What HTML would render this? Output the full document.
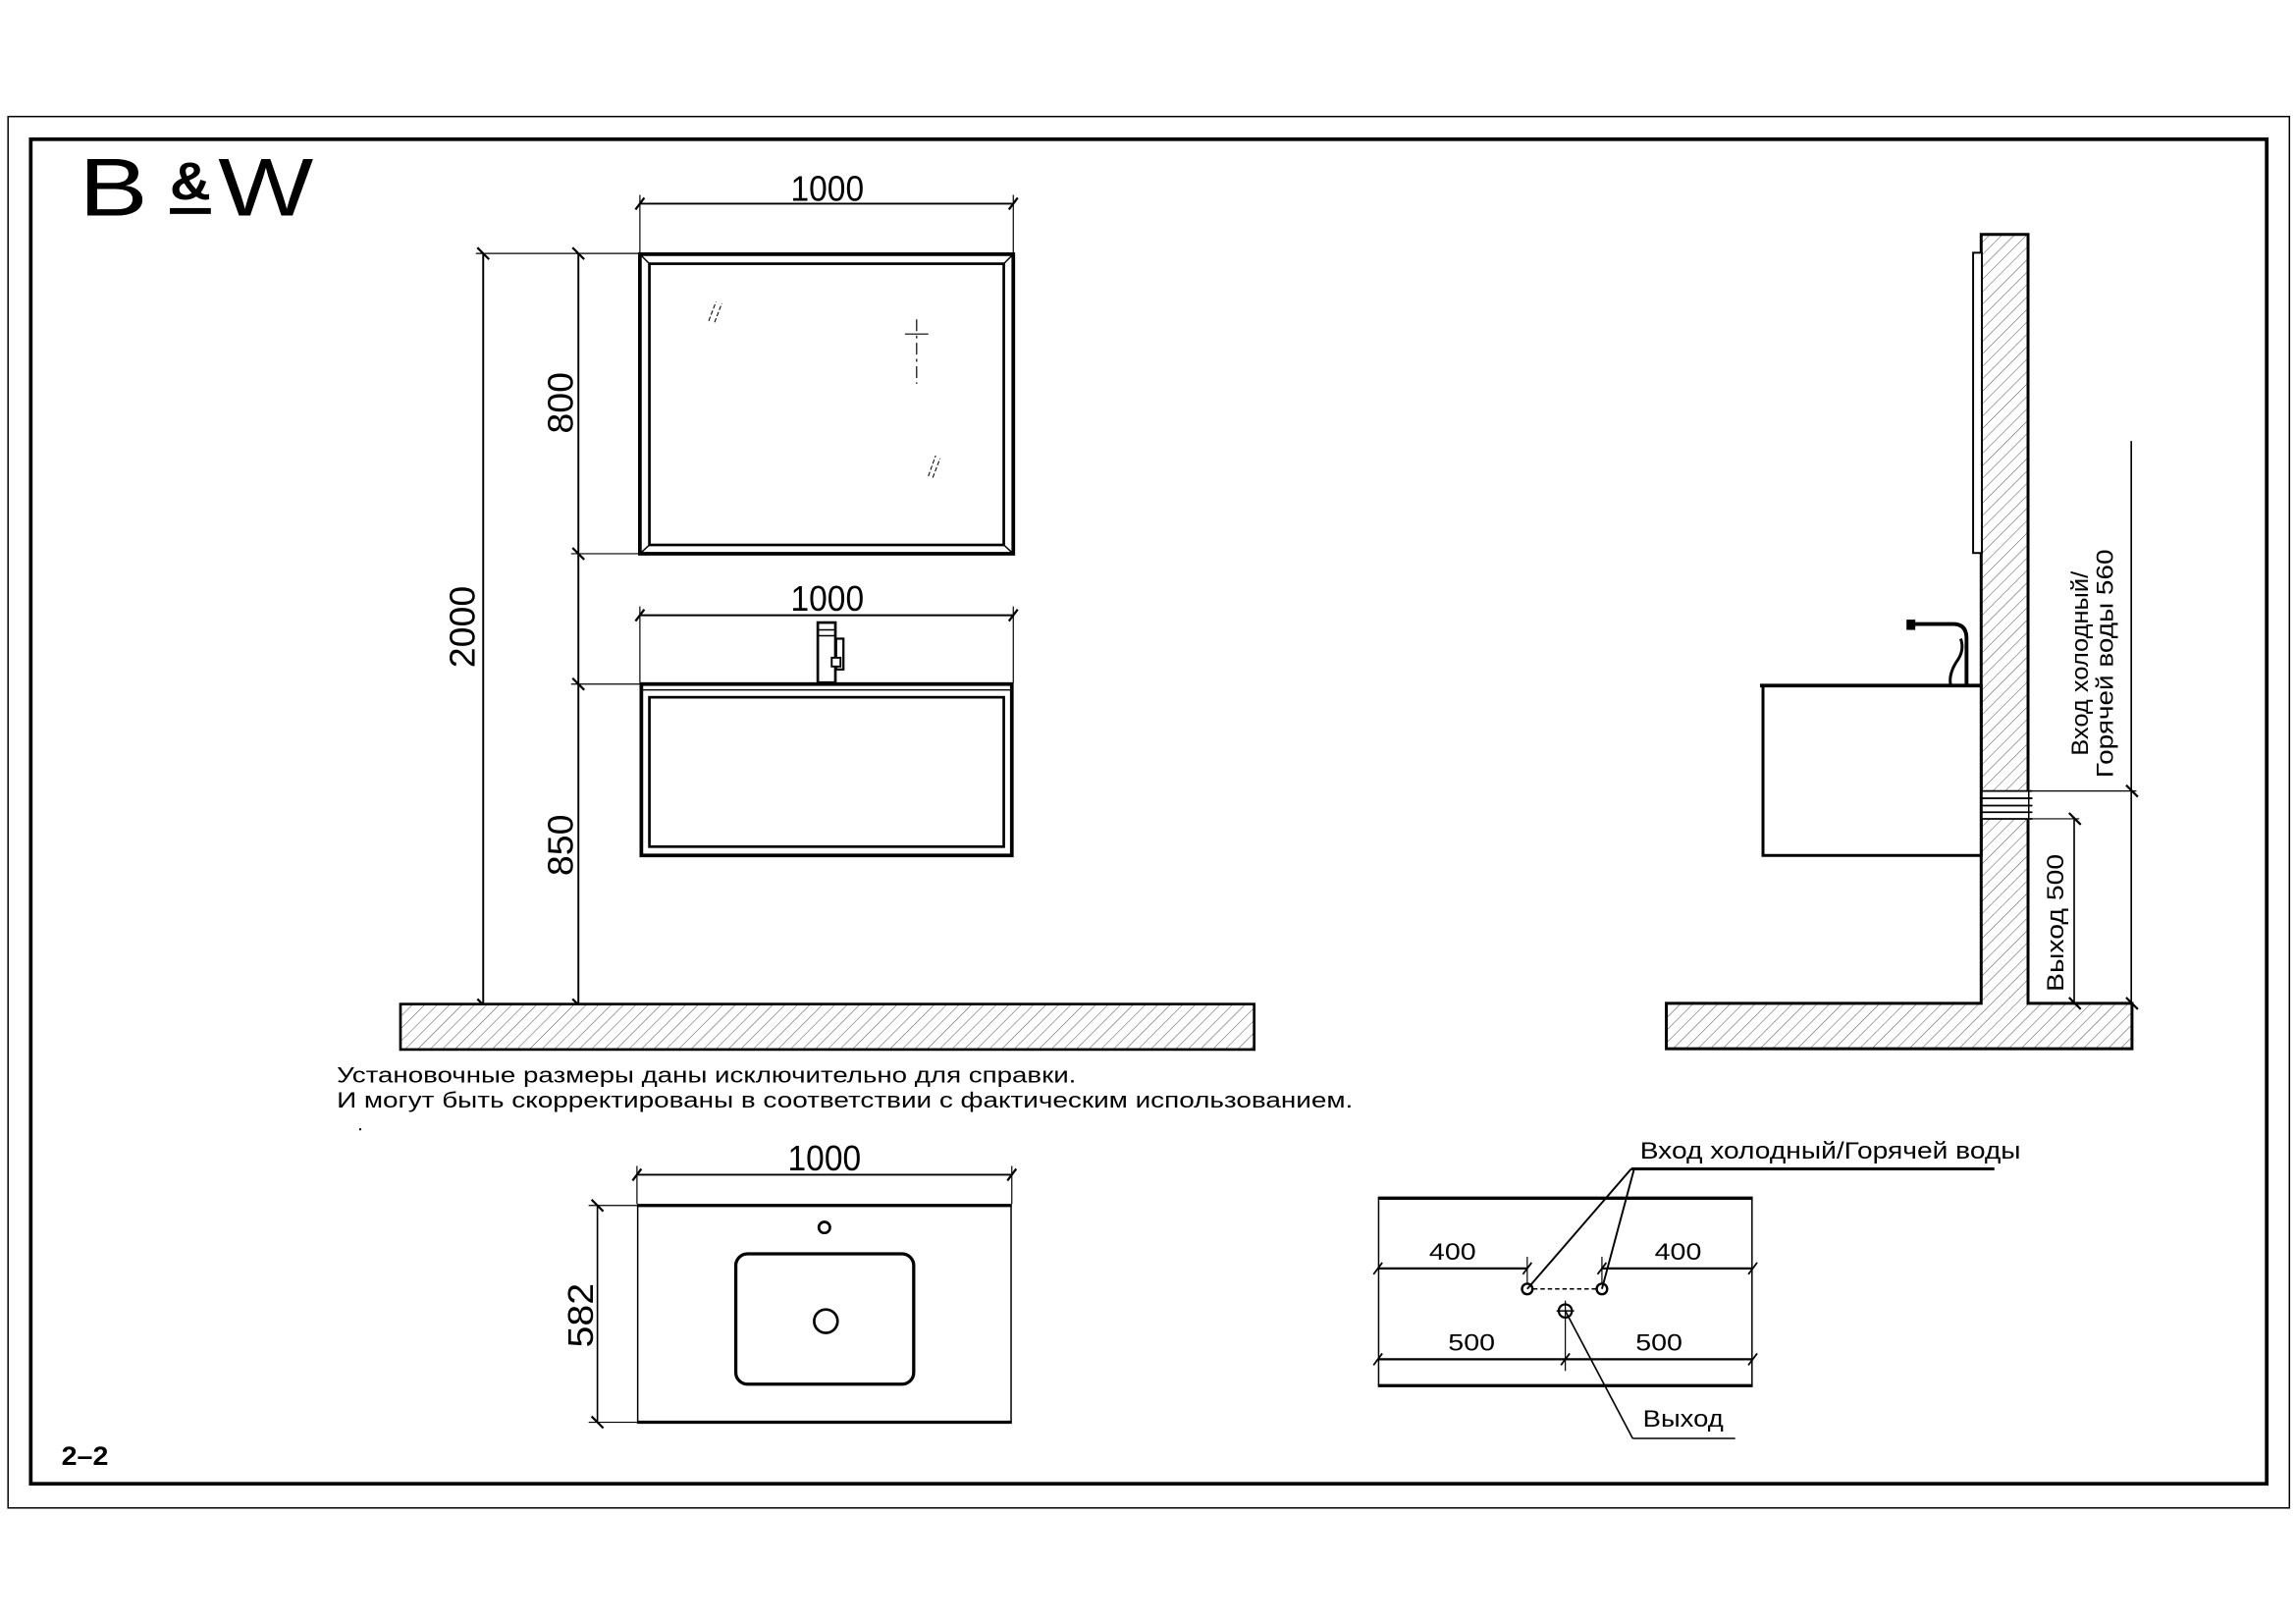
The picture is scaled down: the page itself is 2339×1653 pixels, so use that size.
<!DOCTYPE html>
<html><head><meta charset="utf-8"><style>
html,body{margin:0;padding:0;background:#fff;}
svg{display:block;}
text{font-family:"Liberation Sans","DejaVu Sans",sans-serif;fill:#000;}
</style></head><body>
<svg width="2339" height="1653" viewBox="0 0 1568 1108" xmlns="http://www.w3.org/2000/svg">
<defs>
<pattern id="h" patternUnits="userSpaceOnUse" width="6" height="6" patternTransform="rotate(45)">
<rect width="6" height="6" fill="#fff"/>
<line x1="0" y1="0" x2="0" y2="6" stroke="#555" stroke-width="0.7"/>
</pattern>
</defs>
<rect x="0" y="0" width="1568" height="1108" fill="#fff"/>
<rect x="5.5" y="79.5" width="1558" height="950" fill="none" stroke="#000" stroke-width="1"/>
<rect x="21" y="95" width="1527" height="918" fill="none" stroke="#000" stroke-width="2.5"/>

<!-- logo -->
<text x="54" y="147" font-size="56" textLength="47" lengthAdjust="spacingAndGlyphs" fill="#fff" stroke="#000" stroke-width="0">B</text>
<text x="116" y="136" font-size="36" font-weight="bold" textLength="28" lengthAdjust="spacingAndGlyphs">&amp;</text>
<rect x="116" y="142" width="28" height="4" fill="#000"/>
<text x="149" y="147" font-size="56" textLength="65" lengthAdjust="spacingAndGlyphs">W</text>

<g stroke="#000" fill="none">
<rect x="437" y="173.5" width="255" height="204.5" stroke-width="2.5"/>
<rect x="443.5" y="180" width="242" height="192" stroke-width="1.8"/>
<line x1="437" y1="173.5" x2="443.5" y2="180" stroke-width="1"/>
<line x1="692" y1="173.5" x2="685.5" y2="180" stroke-width="1"/>
<line x1="437" y1="378" x2="443.5" y2="372" stroke-width="1"/>
<line x1="692" y1="378" x2="685.5" y2="372" stroke-width="1"/>
<g stroke-width="0.7" stroke-dasharray="3 1.5">
<line x1="484" y1="219" x2="489" y2="206"/><line x1="488" y1="220" x2="493" y2="207"/>
<line x1="634" y1="325" x2="639" y2="311"/><line x1="637" y1="326" x2="642" y2="313"/>
</g>
<line x1="618" y1="228" x2="634" y2="228" stroke-width="0.8"/>
<line x1="626" y1="218" x2="626" y2="262" stroke-width="0.8" stroke-dasharray="8 3 2 3"/>

<line x1="437" y1="139" x2="692" y2="139" stroke-width="1.3"/>
<line x1="437" y1="133" x2="437" y2="173" stroke-width="0.8"/>
<line x1="692" y1="133" x2="692" y2="173" stroke-width="0.8"/>
<line x1="434" y1="143" x2="440" y2="135" stroke-width="1.5"/>
<line x1="689" y1="143" x2="695" y2="135" stroke-width="1.5"/>

<line x1="395" y1="173" x2="395" y2="686" stroke-width="1.3"/>
<line x1="330" y1="173" x2="330" y2="686" stroke-width="1.3"/>
<line x1="325" y1="173" x2="437" y2="173" stroke-width="0.8"/>
<line x1="390" y1="378" x2="437" y2="378" stroke-width="0.8"/>
<line x1="390" y1="467" x2="437" y2="467" stroke-width="0.8"/>
<g stroke-width="1.5">
<line x1="326" y1="169" x2="334" y2="177"/><line x1="391" y1="169" x2="399" y2="177"/>
<line x1="391" y1="374" x2="399" y2="382"/><line x1="391" y1="463" x2="399" y2="471"/>
<line x1="326" y1="682" x2="334" y2="690"/><line x1="391" y1="682" x2="399" y2="690"/>
</g>

<line x1="437" y1="420" x2="692" y2="420" stroke-width="1.3"/>
<line x1="437" y1="414" x2="437" y2="466" stroke-width="0.8"/>
<line x1="692" y1="414" x2="692" y2="466" stroke-width="0.8"/>
<line x1="434" y1="424" x2="440" y2="416" stroke-width="1.5"/>
<line x1="689" y1="424" x2="695" y2="416" stroke-width="1.5"/>
<rect x="438" y="467" width="253" height="117" stroke-width="2.5"/>
<line x1="438" y1="471" x2="691" y2="471" stroke-width="1"/>
<rect x="443.5" y="476" width="242" height="102" stroke-width="1.8"/>
<rect x="558.5" y="425" width="12" height="41" fill="#fff" stroke-width="1.8"/>
<line x1="559" y1="430" x2="570" y2="430" stroke-width="1"/>
<line x1="559" y1="434" x2="570" y2="434" stroke-width="1"/>
<rect x="571" y="436" width="5" height="21" fill="#fff" stroke-width="1.5"/>
<rect x="568" y="449" width="6" height="6" fill="#fff" stroke-width="1.3"/>

<rect x="273.5" y="685.5" width="583" height="31" fill="url(#h)" stroke-width="1.8"/>

<line x1="435" y1="802" x2="691" y2="802" stroke-width="1.3"/>
<line x1="435" y1="796" x2="435" y2="822" stroke-width="0.8"/>
<line x1="691" y1="796" x2="691" y2="822" stroke-width="0.8"/>
<line x1="432" y1="806" x2="438" y2="798" stroke-width="1.5"/>
<line x1="688" y1="806" x2="694" y2="798" stroke-width="1.5"/>
<line x1="435.5" y1="823" x2="435.5" y2="971" stroke-width="1"/>
<line x1="690.5" y1="823" x2="690.5" y2="971" stroke-width="1"/>
<line x1="435" y1="823" x2="691" y2="823" stroke-width="2.2"/>
<line x1="435" y1="971" x2="691" y2="971" stroke-width="2.2"/>
<line x1="408" y1="823" x2="408" y2="971" stroke-width="1.1"/>
<line x1="402" y1="823" x2="435" y2="823" stroke-width="0.8"/>
<line x1="402" y1="971" x2="435" y2="971" stroke-width="0.8"/>
<line x1="404" y1="819" x2="412" y2="827" stroke-width="1.5"/>
<line x1="404" y1="967" x2="412" y2="975" stroke-width="1.5"/>
<rect x="502.5" y="856" width="121.5" height="89" rx="8" stroke-width="2.2"/>
<circle cx="563" cy="838" r="3.8" stroke-width="1.8"/>
<circle cx="564" cy="902" r="8" stroke-width="1.8"/>

<line x1="941" y1="818" x2="1197" y2="818" stroke-width="2.2"/>
<line x1="941" y1="946" x2="1197" y2="946" stroke-width="2.2"/>
<line x1="941.5" y1="818" x2="941.5" y2="946" stroke-width="1"/>
<line x1="1196.5" y1="818" x2="1196.5" y2="946" stroke-width="1"/>
<line x1="941" y1="866" x2="1043" y2="866" stroke-width="1.5"/>
<line x1="1094" y1="866" x2="1197" y2="866" stroke-width="1.5"/>
<line x1="1043" y1="858" x2="1043" y2="876" stroke-width="0.8"/>
<line x1="1094" y1="858" x2="1094" y2="876" stroke-width="0.8"/>
<line x1="941" y1="928" x2="1197" y2="928" stroke-width="1.5"/>
<line x1="1069" y1="888" x2="1069" y2="936" stroke-width="0.8"/>
<g stroke-width="1.2">
<line x1="938" y1="870" x2="944" y2="862"/><line x1="1040" y1="870" x2="1046" y2="862"/>
<line x1="1091" y1="870" x2="1097" y2="862"/><line x1="1194" y1="870" x2="1200" y2="862"/>
<line x1="938" y1="932" x2="944" y2="924"/><line x1="1066" y1="932" x2="1072" y2="924"/>
<line x1="1194" y1="932" x2="1200" y2="924"/>
</g>
<circle cx="1043" cy="880" r="3.6" stroke-width="1.6"/>
<circle cx="1094" cy="880" r="3.6" stroke-width="1.6"/>
<line x1="1047" y1="880" x2="1090" y2="880" stroke-width="1" stroke-dasharray="3 2"/>
<circle cx="1069" cy="895" r="4.5" stroke-width="1.5"/>
<line x1="1063" y1="895" x2="1075" y2="895" stroke-width="1"/>
<line x1="1043" y1="880" x2="1114" y2="798" stroke-width="1.3"/>
<line x1="1094" y1="880" x2="1116" y2="798" stroke-width="1.3"/>
<line x1="1114" y1="798" x2="1362" y2="798" stroke-width="2"/>
<line x1="1069" y1="895" x2="1115" y2="982" stroke-width="1.1"/>
<line x1="1115" y1="982" x2="1185" y2="982" stroke-width="1"/>

<path d="M1353,160 H1385 V685 H1456 V716 H1138 V685 H1353 Z" fill="url(#h)" stroke-width="2"/>
<rect x="1353" y="540" width="32" height="19" fill="#fff" stroke="none"/>
<g stroke-width="1.2">
<line x1="1350" y1="540" x2="1388" y2="540"/><line x1="1350" y1="545" x2="1388" y2="545"/>
<line x1="1350" y1="550" x2="1388" y2="550"/><line x1="1350" y1="554.5" x2="1388" y2="554.5"/>
<line x1="1350" y1="559" x2="1388" y2="559"/>
</g>
<rect x="1347.5" y="172.5" width="6" height="205" fill="#fff" stroke-width="1.3"/>
<rect x="1204" y="468" width="149" height="116" fill="#fff" stroke-width="2"/>
<line x1="1202" y1="468" x2="1353" y2="468" stroke-width="2.5"/>
<path d="M1305,426 H1334 Q1343,426 1343,436 V467" stroke-width="2.6"/>
<path d="M1339,436 Q1342,444 1336,452 Q1331,460 1332,467" stroke-width="2"/>
<rect x="1302" y="423" width="6" height="7" fill="#000" stroke-width="0"/>

<line x1="1388" y1="540" x2="1459" y2="540" stroke-width="0.8"/>
<line x1="1388" y1="559" x2="1420" y2="559" stroke-width="0.8"/>
<line x1="1455.5" y1="301" x2="1455.5" y2="686" stroke-width="1.1"/>
<line x1="1416.5" y1="559" x2="1416.5" y2="686" stroke-width="1.1"/>
<g stroke-width="1.5">
<line x1="1452" y1="536" x2="1460" y2="544"/><line x1="1452" y1="681" x2="1460" y2="689"/>
<line x1="1413" y1="555" x2="1421" y2="563"/><line x1="1413" y1="681" x2="1421" y2="689"/>
</g>
</g>

<g font-size="24">
<text x="565" y="137" text-anchor="middle" textLength="50" lengthAdjust="spacingAndGlyphs">1000</text>
<text x="565" y="417" text-anchor="middle" textLength="50" lengthAdjust="spacingAndGlyphs">1000</text>
<text x="563" y="799" text-anchor="middle" textLength="50" lengthAdjust="spacingAndGlyphs">1000</text>
<text transform="translate(391,275) rotate(-90)" text-anchor="middle" textLength="42" lengthAdjust="spacingAndGlyphs">800</text>
<text transform="translate(324,428) rotate(-90)" text-anchor="middle" textLength="56" lengthAdjust="spacingAndGlyphs">2000</text>
<text transform="translate(391,577) rotate(-90)" text-anchor="middle" textLength="42" lengthAdjust="spacingAndGlyphs">850</text>
<text transform="translate(405,898) rotate(-90)" text-anchor="middle" textLength="44" lengthAdjust="spacingAndGlyphs">582</text>
</g>
<g font-size="16">
<text x="992" y="860" text-anchor="middle" textLength="32" lengthAdjust="spacingAndGlyphs">400</text>
<text x="1146" y="860" text-anchor="middle" textLength="32" lengthAdjust="spacingAndGlyphs">400</text>
<text x="1005" y="922" text-anchor="middle" textLength="32" lengthAdjust="spacingAndGlyphs">500</text>
<text x="1133" y="922" text-anchor="middle" textLength="32" lengthAdjust="spacingAndGlyphs">500</text>
<text x="1120" y="791" textLength="260" lengthAdjust="spacingAndGlyphs">Вход холодный/Горячей воды</text>
<text x="1122" y="974" textLength="55" lengthAdjust="spacingAndGlyphs">Выход</text>
<text transform="translate(1426,453) rotate(-90)" text-anchor="middle" textLength="126" lengthAdjust="spacingAndGlyphs">Вход холодный/</text>
<text transform="translate(1443,453) rotate(-90)" text-anchor="middle" textLength="156" lengthAdjust="spacingAndGlyphs">Горячей воды 560</text>
<text transform="translate(1409,630) rotate(-90)" text-anchor="middle" textLength="94" lengthAdjust="spacingAndGlyphs">Выход 500</text>
</g>
<g font-size="15">
<text x="230" y="739" textLength="505" lengthAdjust="spacingAndGlyphs">Установочные размеры даны исключительно для справки.</text>
<text x="230" y="756" textLength="694" lengthAdjust="spacingAndGlyphs">И могут быть скорректированы в соответствии с фактическим использованием.</text>
</g>
<circle cx="246" cy="771" r="0.8" fill="#000"/>
<text x="42" y="1000" font-size="18" font-weight="bold" textLength="32" lengthAdjust="spacingAndGlyphs">2–2</text>
<text x="54" y="147" font-size="56" textLength="47" lengthAdjust="spacingAndGlyphs">B</text>
</svg>
</body></html>
